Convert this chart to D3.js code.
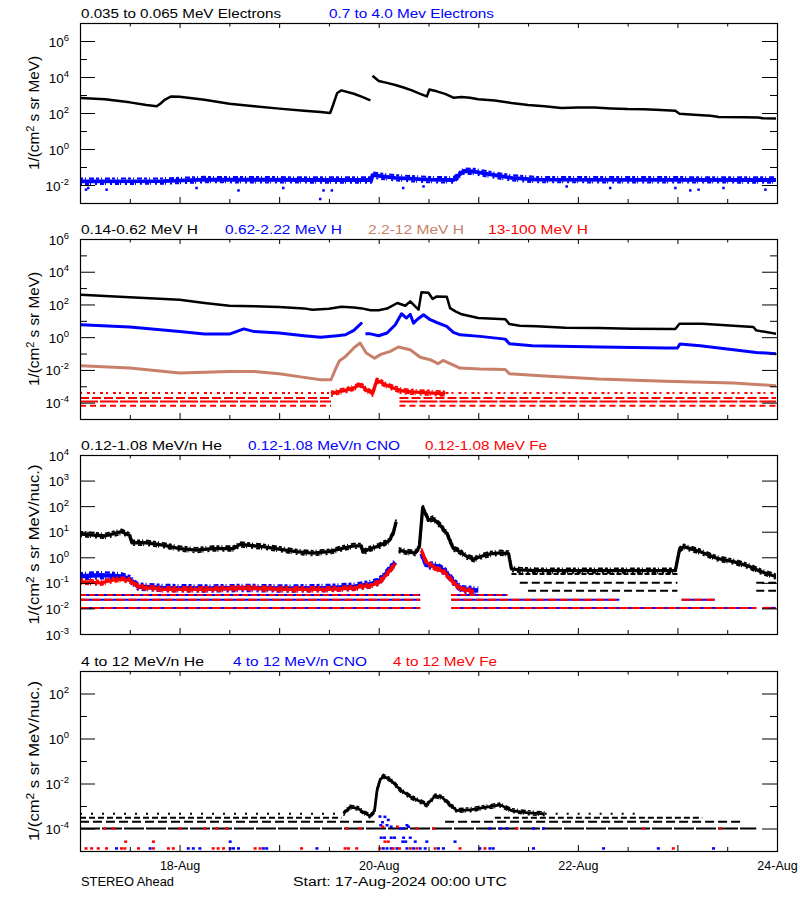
<!DOCTYPE html>
<html><head><meta charset="utf-8">
<script src="https://cdn.jsdelivr.net/npm/d3@7"></script>
<style>
body{margin:0;background:#fff;}
text{font-family:"Liberation Sans","DejaVu Sans",sans-serif;}
</style>
</head><body>
<svg id="c" width="800" height="900"></svg>
<script>
// ---------- DATA: [hours since 17-Aug-2024 00:00 UTC, flux] ----------
// Panel 1
const e1 = [[0,680],[6,575],[12,390],[16,275],[18.5,235],[19.5,350],[20.5,560],[22,830],[24,790],[30,550],[36,330],[42,235],[48,175],[54,135],[58,112],[60.3,100],[61,280],[62,1300],[63,1800],[66,1170],[68,780],[70,500],[70.2,null],[70.5,11700],[72,6000],[74,4700],[76,3600],[78,2600],[80,1800],[82,1150],[83.6,830],[84.2,2000],[86,1600],[88,1150],[90,710],[92,780],[94,710],[96,580],[100,500],[104,360],[108,275],[112,235],[116,190],[120,205],[124,205],[128,180],[132,165],[136,160],[140,148],[143.5,132],[144.5,91],[148,81],[152,71],[154,60],[160,57.5],[163.5,56],[164.5,51],[168,50]];
const e2 = [[0,0.016],[20,0.0165],[30,0.02],[60,0.019],[70.2,0.019],[70.5,0.035],[76,0.025],[84,0.02],[90,0.019],[92.5,0.06],[95,0.056],[100,0.035],[104,0.025],[110,0.02],[168,0.019]];
const e2Out = [[1.45,0.0055],[2.0,0.0068],[6.4,0.0055],[28.1,0.0068],[38.2,0.005],[49,0.0068],[57.9,0.00166],[58.7,0.005],[60.7,0.005],[77.9,0.0068],[82.8,0.0083],[117.3,0.0083],[127.8,0.0068],[143.5,0.0068],[147.1,0.005],[149.1,0.0055],[155.1,0.0068],[165.2,0.0055]];
// Panel 2
const h1 = [[0,400],[6,330],[12,280],[18,235],[24,195],[30,123],[36,83],[42,79],[48,69],[54,57.5],[56,48],[60,55],[63,72],[66,66],[68,57.5],[70,44],[72,44],[74,56],[76.5,123],[78.4,83],[79.6,155],[80.8,76],[81.6,48],[82.3,550],[84,520],[85,215],[86,310],[88.4,300],[89.2,60],[90.5,38],[92,25],[96,14.8],[102.5,12.6],[103.5,6.3],[106,5.0],[110,4.6],[117,3.8],[125,3.7],[133,3.3],[143.5,3.2],[144.5,6.6],[150,6.6],[157.5,5.0],[162.3,4.2],[163,2.6],[168,1.6]];
const h2 = [[0,5.8],[12,4.2],[24,2.2],[30,1.55],[36,1.55],[39.5,3.2],[42,2.2],[48,1.8],[54,1.23],[58,0.98],[62,1.23],[64,1.4],[66,2.6],[68,7.9],[68.3,null],[68.8,1.6],[70,1.6],[72,1.23],[74,1.8],[76,5.8],[77.5,27],[78.7,14.8],[79.6,25],[80.4,7.2],[81.2,11.7],[82.8,23.5],[84.4,11.7],[86,7.9],[88.4,4.6],[90,1.95],[91.6,1.4],[96.4,1.12],[102.5,0.76],[103.5,0.40],[109,0.30],[125.4,0.25],[141.4,0.22],[144,0.22],[144.6,0.38],[149.5,0.30],[157.5,0.17],[163,0.117],[168,0.098]];
const h3 = [[0,0.018],[12,0.013],[24,0.0065],[36,0.0081],[42,0.0081],[48,0.0059],[54,0.0035],[58,0.0025],[60.5,0.0025],[61.5,0.01],[62.5,0.035],[64,0.066],[66,0.22],[67.5,0.44],[69,0.107],[71,0.052],[72.5,0.089],[74.8,0.135],[76.7,0.25],[79.6,0.17],[82,0.06],[84.4,0.042],[86.3,0.024],[87.5,0.038],[89.2,0.024],[91.6,0.013],[96.4,0.0112],[102.5,0.0107],[103.5,0.0059],[111,0.0044],[125,0.00275],[141,0.002],[157.5,0.0016],[168,0.00107]];
const h4 = [[60.5,3.4e-4],[62,4.5e-4],[64,5.6e-4],[66,7.9e-4],[67.5,1.26e-3],[69,6.3e-4],[70.5,3.5e-4],[71.5,2.2e-3],[72.5,1.8e-3],[74,1.12e-3],[76,7.1e-4],[78,5.0e-4],[80,4.5e-4],[84,4.0e-4],[88,3.5e-4]];
const h4Rows = [[3.9e-4,0,60.5],[3.9e-4,77,168],[1.9e-4,0,60.5],[1.9e-4,77,168],[1.17e-4,0,60.5],[1.17e-4,77,168],[6.5e-5,0,60.5],[6.5e-5,77,168]];
// Panel 3
const he1 = [[0,8.1],[6,6.8],[10,10],[12,7.1],[12.5,3.7],[16,3.7],[20,3.0],[24,2.2],[28,1.9],[32,2.2],[37,2.2],[38.5,3.2],[44,2.6],[48,2.1],[52,1.66],[56,1.45],[60,1.66],[64,2.4],[66,2.8],[67.8,2.8],[68.2,1.58],[70,2.2],[72,2.75],[74.5,4.4],[75.5,8.7],[76.2,24.5],[76.5,null],[76.8,1.9],[78.4,1.66],[80.8,1.45],[81.8,2.6],[82.6,89],[84,28],[85.1,33],[86.8,18],[88.4,8.7],[90,2.2],[91.6,1.66],[93.3,1.05],[95,0.83],[96.4,1.05],[98.8,1.35],[101.3,1.5],[103.3,1.4],[104,0.35],[106,0.32],[110,0.3],[120,0.3],[130,0.3],[140,0.3],[143.5,0.3],[144.5,2.0],[145.5,2.6],[149.5,1.66],[153.5,0.91],[157.5,0.68],[161.5,0.43],[164,0.28],[168,0.17]];
const he1Rows = [[0.222,104,144],[0.101,106,144],[0.101,163,168],[0.049,108,144],[0.049,163,168]];
const cno3 = [[0,0.18],[5,0.2],[10,0.18],[12,0.14],[14,0.071],[20,0.063],[30,0.06],[40,0.063],[50,0.06],[60,0.063],[66,0.071],[70,0.089],[72,0.112],[74,0.25],[76,0.63],[76.5,null],[82.3,1.4],[83.5,0.5],[86,0.45],[88,0.28],[90,0.112],[92,0.056],[96,0.05]];
const fe3 = [[0,0.112],[5,0.1],[9,0.14],[12,0.126],[14,0.071],[20,0.056],[30,0.056],[40,0.063],[50,0.056],[60,0.056],[66,0.063],[70,0.079],[72,0.1],[74,0.22],[76,0.56],[76.5,null],[82.3,1.8],[83.5,0.63],[86,0.35],[88,0.25],[90,0.1],[92,0.056],[95,0.045]];
const ion3Rows = [[0.0335,0,82],[0.0335,89.5,103],[0.022,0,82],[0.022,89.5,130],[0.022,145,153],[0.0105,0,82],[0.0105,89.5,163],[0.0105,164.5,168]];
// Panel 4
const he4 = [[63.5,4.5e-4],[65,8.9e-4],[67,7.9e-4],[68.5,5.0e-4],[70,3.5e-4],[71,6.3e-4],[71.6,5.0e-3],[72.3,1.4e-2],[73.1,2.1e-2],[74.8,1.48e-2],[77.2,5.2e-3],[79.6,2.6e-3],[82,1.6e-3],[83.6,1.12e-3],[85.6,2.8e-3],[87.3,2.4e-3],[89.2,1.12e-3],[90.8,6.3e-4],[94,6.8e-4],[98,8.9e-4],[101.3,1.12e-3],[104,6.3e-4],[108,5.0e-4],[112,4.5e-4]];
const he4Rows = [[4.5e-4,0,62],[4.5e-4,112,135],[3.0e-4,0,63],[3.0e-4,100,150],[2.0e-4,0,71],[2.0e-4,88,160],[1.0e-4,0,163]];
const fe4 = [[1.45,1.3e-5],[2.8,1.3e-5],[4.4,1.3e-5],[6.4,1.3e-5],[10.0,1.3e-5],[10.8,1.3e-5],[14.1,1.3e-5],[17.7,1.3e-5],[21.3,1.3e-5],[22.5,1.3e-5],[32.1,1.3e-5],[33.3,1.3e-5],[34.6,1.3e-5],[42.2,1.3e-5],[43.4,1.3e-5],[53.4,1.3e-5],[63.9,1.3e-5],[64.7,1.3e-5],[66.7,1.3e-5],[72.3,1.3e-5],[75.5,1.3e-5],[77.0,1.3e-5],[79.6,1.3e-5],[81.2,1.3e-5],[85.6,1.3e-5],[91.6,1.3e-5],[97.6,1.3e-5],[143.0,1.3e-5],
  [11.0,2.6e-5],[17.7,2.6e-5],[73.5,2.6e-5],[74.3,2.6e-5],
  [6.0,1e-4],[8.0,1e-4],[24.1,1e-4],[30.1,1e-4],[33.0,1e-4],[35.4,1e-4],[64.3,1e-4],[67.5,1e-4],[73,1.2e-4],[76.5,1.2e-4],[81.2,1e-4],[85.2,1e-4],[105.3,1e-4],[135.8,1e-4],[154.3,1e-4]];
const cno4 = [[8.8,1.3e-5],[16.9,1.3e-5],[26.1,1.3e-5],[27.3,1.3e-5],[28.9,1.3e-5],[36.2,1.3e-5],[37.0,1.3e-5],[38.2,1.3e-5],[44.2,1.3e-5],[45.0,1.3e-5],[57.1,1.3e-5],[73.1,1.3e-5],[74.0,1.3e-5],[75.0,1.3e-5],[76.4,1.3e-5],[78.8,1.3e-5],[80.4,1.3e-5],[82.0,1.3e-5],[83.2,1.3e-5],[86.4,1.3e-5],[87.6,1.3e-5],[96.4,1.3e-5],[98.8,1.3e-5],[99.6,1.3e-5],[109.3,1.3e-5],[126.2,1.3e-5],[139.4,1.3e-5],[152.7,1.3e-5],
  [72.6,3.9e-5],[73.4,3.9e-5],[75.0,3.9e-5],[75.8,3.9e-5],[78.0,3.9e-5],[79.6,3.9e-5],
  [36.2,2.6e-5],[77.8,2.6e-5],[78.5,2.6e-5],[80.8,2.6e-5],[83.6,2.6e-5],[90.4,2.6e-5],
  [72.3,3.4e-4],[73.5,3.3e-4],[74.3,2.4e-4],[72.9,1.9e-4],[72.5,1.4e-4],[74.0,1.4e-4],[75.0,1.2e-4],[78.8,1.4e-4],[79.2,1.2e-4],
  [77.2,1e-4],[78,1e-4],[98.8,1e-4],[101.3,1e-4],[102.9,1e-4],[109.3,1e-4],[111.7,1e-4]];

// Axis tick values / labels
const p1Major=[1e-2,1,1e2,1e4,1e6], p1Minor=[1e-1,1e1,1e3,1e5];
const p2Major=[1e-4,1e-2,1,1e2,1e4,1e6], p2Minor=[1e-3,1e-1,1e1,1e3,1e5];
const p3Major=[1e-3,1e-2,1e-1,1,1e1,1e2,1e3,1e4], p3Minor=[];
const p4Major=[1e-4,1e-2,1,1e2], p4Minor=[1e-3,1e-1,1e1];
const dayLabels=[1,3,5,7]; // days after start: 18, 20, 22, 24 Aug

// ---------- DRAWING ----------
const svg = d3.select("#c");
svg.append("rect").attr("width",800).attr("height",900).attr("fill","#fff");
const T0 = Date.UTC(2024,7,17);
const toDate = h => new Date(T0 + h*3600e3);
const X0=80, X1=777;
const x = d3.scaleUtc().domain([toDate(0),toDate(168)]).range([X0,X1]);
const BLUE="#0000ff", RED="#ff0000", BROWN="#c8806a", BLACK="#000";

function panel(id, top, bottom, dom, major, minor, ylabel, ylabLen, titles){
  const y = d3.scaleLog().domain(dom).range([bottom, top]);
  const g = svg.append("g");
  svg.append("clipPath").attr("id","cp"+id).append("rect")
    .attr("x",X0+1).attr("y",top+1).attr("width",X1-X0-2).attr("height",bottom-top-2);
  const plot = g.append("g").attr("clip-path",`url(#cp${id})`);
  const ax = g.append("g");
  const strip = s => { s.select(".domain").remove(); s.selectAll("line").attr("stroke","#000").attr("stroke-width",1); s.selectAll("text").remove(); };
  ax.append("g").attr("transform",`translate(${X0},0)`).call(d3.axisLeft(y).tickValues(major).tickSize(-15)).call(strip);
  ax.append("g").attr("transform",`translate(${X0},0)`).call(d3.axisLeft(y).tickValues(minor).tickSize(-7)).call(strip);
  ax.append("g").attr("transform",`translate(${X1},0)`).call(d3.axisRight(y).tickValues(major).tickSize(-15)).call(strip);
  ax.append("g").attr("transform",`translate(${X1},0)`).call(d3.axisRight(y).tickValues(minor).tickSize(-7)).call(strip);
  const days = d3.utcDay.range(toDate(1),toDate(168));
  const halves = d3.utcHour.every(12).range(toDate(1),toDate(168)).filter(d=>d.getUTCHours()===12);
  ax.append("g").attr("transform",`translate(0,${bottom})`).call(d3.axisBottom(x).tickValues(days).tickSize(-6)).call(strip);
  ax.append("g").attr("transform",`translate(0,${bottom})`).call(d3.axisBottom(x).tickValues(halves).tickSize(-4)).call(strip);
  ax.append("g").attr("transform",`translate(0,${top})`).call(d3.axisTop(x).tickValues(days).tickSize(-5)).call(strip);
  ax.append("g").attr("transform",`translate(0,${top})`).call(d3.axisTop(x).tickValues(halves).tickSize(-3.5)).call(strip);
  g.append("rect").attr("x",X0+0.5).attr("y",top+0.5).attr("width",X1-X0).attr("height",bottom-top)
    .attr("fill","none").attr("stroke","#000").attr("stroke-width",1.2);
  // y tick labels 10^n
  major.forEach(v=>{
    const e = Math.round(Math.log10(v));
    const t = g.append("text").attr("x",69).attr("y",y(v)+5.5).attr("text-anchor","end").style("font-size","13.5px");
    t.append("tspan").text("10");
    t.append("tspan").attr("dy",-6).style("font-size","9.5px").text(e<0?"-"+(-e):String(e));
  });
  // y axis title
  const yl = g.append("text").attr("transform",`translate(39,${(top+bottom)/2}) rotate(-90)`)
    .attr("text-anchor","middle").style("font-size","14px")
    .attr("textLength",ylabLen).attr("lengthAdjust","spacingAndGlyphs");
  yl.append("tspan").text("1/(cm");
  yl.append("tspan").attr("dy",-5).style("font-size","10px").text("2");
  yl.append("tspan").attr("dy",5).text(" s sr "+ylabel+")");
  // titles
  titles.forEach(([txt,x0,len,col])=>{
    g.append("text").attr("x",x0).attr("y",top-5.5).attr("fill",col).style("font-size","12px")
      .attr("textLength",len).attr("lengthAdjust","spacingAndGlyphs").text(txt);
  });
  return {y, plot};
}

const lineGen = y => d3.line().defined(d=>d[1]!=null).x(d=>x(toDate(d[0]))).y(d=>y(d[1]));
function drawLine(P, data, color, w, dash, dy){
  P.plot.append("path").datum(data).attr("d",lineGen(P.y)).attr("fill","none")
    .attr("stroke",color).attr("stroke-width",w).attr("stroke-linejoin","round")
    .attr("stroke-dasharray",dash||null)
    .attr("transform",dy?`translate(0,${dy})`:null);
}
// noisy band: solid core plus two offset broken edges
function drawBand(P, data, color, w){
  drawLine(P, data, color, w*0.55);
  drawLine(P, data, color, w*0.3, "3,2,1,3,5,2", -w*0.38);
  drawLine(P, data, color, w*0.3, "2,3,4,1,1,4", w*0.38);
}
function drawRows(P, rows, color, w, dashFor, offset){
  P.plot.selectAll(null).data(rows).enter().append("line")
    .attr("x1",d=>x(toDate(d[1]))).attr("x2",d=>x(toDate(d[2])))
    .attr("y1",d=>P.y(d[0])).attr("y2",d=>P.y(d[0]))
    .attr("stroke",color).attr("stroke-width",w)
    .attr("stroke-dasharray",(d,i)=>dashFor(d,i)).attr("stroke-dashoffset",offset||0);
}
function drawDots(P, data, color, w, h){
  P.plot.selectAll(null).data(data).enter().append("rect")
    .attr("x",d=>x(toDate(d[0]))-w/2).attr("y",d=>P.y(d[1])-h/2)
    .attr("width",w).attr("height",h).attr("fill",color);
}

// Panel 1
const P1 = panel(1,23,203,[1e-3,1e7],p1Major,p1Minor,"MeV",114,
  [["0.035 to 0.065 MeV Electrons",81,200,BLACK],["0.7 to 4.0 Mev Electrons",329,165,BLUE]]);
drawBand(P1,e2,BLUE,7);
drawDots(P1,e2Out,BLUE,2.5,2.5);
drawLine(P1,e1,BLACK,2.5);

// Panel 2
const P2 = panel(2,239,419,[1e-5,1e6],p2Major,p2Minor,"MeV",114,
  [["0.14-0.62 MeV H",81,117,BLACK],["0.62-2.22 MeV H",225,117,BLUE],["2.2-12 MeV H",368,96,BROWN],["13-100 MeV H",488,100,RED]]);
const rowDash2 = d => d[0]>3e-4 ? "2,5,3,3" : d[0]>1.5e-4 ? "9,3" : d[0]>1e-4 ? "18,2" : "6,4";
drawRows(P2,h4Rows,RED,2,rowDash2);
drawBand(P2,h4,RED,6);
drawLine(P2,h3,BROWN,3);
drawLine(P2,h2,BLUE,3);
drawLine(P2,h1,BLACK,2.5);

// Panel 3
const P3 = panel(3,455,634,[1e-3,1e4],p3Major,p3Minor,"MeV/nuc.",160,
  [["0.12-1.08 MeV/n He",81,141,BLACK],["0.12-1.08 MeV/n CNO",248,152,BLUE],["0.12-1.08 MeV Fe",425,122,RED]]);
drawRows(P3,ion3Rows,BLUE,2,()=>null);
drawRows(P3,ion3Rows,RED,2,d=>d[0]>0.03?"6,3":"9,3");
drawBand(P3,cno3,BLUE,8);
drawBand(P3,fe3,RED,6);
drawRows(P3,he1Rows,BLACK,2,d=>d[0]>0.2?"5,2":"8,4");
drawBand(P3,he1,BLACK,6);

// Panel 4
const P4 = panel(4,671,851,[1e-5,1e3],p4Major,p4Minor,"MeV/nuc.",160,
  [["4 to 12 MeV/n He",81,123,BLACK],["4 to 12 MeV/n CNO",233,134,BLUE],["4 to 12 MeV Fe",393,104,RED]]);
drawRows(P4,he4Rows,BLACK,2,d=>d[0]>4e-4?"2,9":d[0]>2.5e-4?"6,3":d[0]>1.5e-4?"9,4":"20,2");
drawBand(P4,he4,BLACK,5);
drawDots(P4,cno4,BLUE,3,2.5);
drawDots(P4,fe4,RED,3,2.5);

// Bottom date labels
const xl = svg.append("g").attr("transform",`translate(0,851)`)
  .call(d3.axisBottom(x).tickValues(dayLabels.map(d=>toDate(d*24))).tickSize(0).tickPadding(10.5).tickFormat(d3.utcFormat("%d-%b")));
xl.select(".domain").remove();
xl.selectAll("text").style("font-size","12.5px").attr("font-family",null).attr("fill","#000");
svg.append("text").attr("x",81).attr("y",886).style("font-size","12.5px").attr("textLength",93).attr("lengthAdjust","spacingAndGlyphs").text("STEREO Ahead");
svg.append("text").attr("x",293).attr("y",886).style("font-size","12.5px").attr("textLength",214).attr("lengthAdjust","spacingAndGlyphs").text("Start: 17-Aug-2024 00:00 UTC");
</script>
</body></html>
